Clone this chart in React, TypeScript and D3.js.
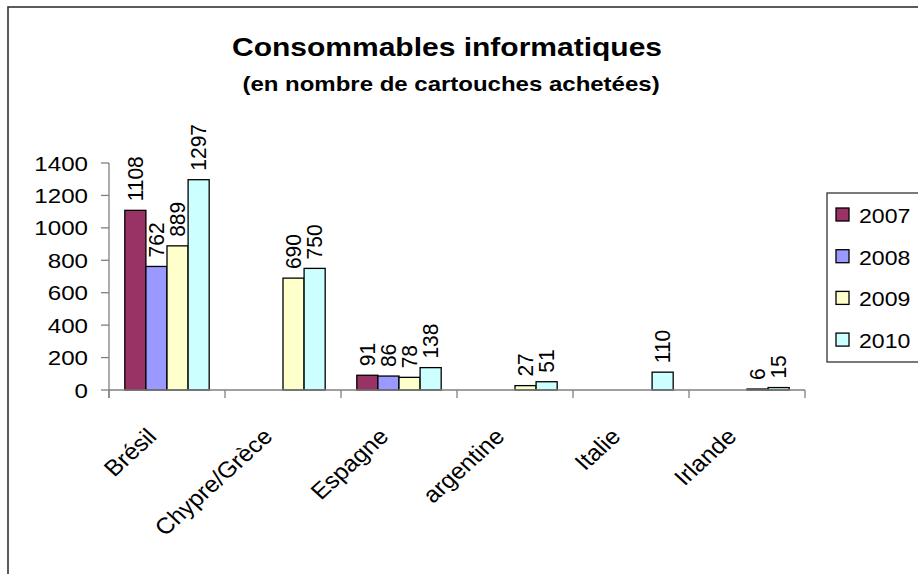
import React from "react";
import * as d3 from "d3";

const categories = ["Brésil", "Chypre/Grèce", "Espagne", "argentine", "Italie", "Irlande"];
const seriesNames = ["2007", "2008", "2009", "2010"];
const values2007: (number | null)[] = [1108, null, 91, null, null, null];
const values2008: (number | null)[] = [762, null, 86, null, null, null];
const values2009: (number | null)[] = [889, 690, 78, 27, null, 6];
const values2010: (number | null)[] = [1297, 750, 138, 51, 110, 15];
const yTicks = [0, 200, 400, 600, 800, 1000, 1200, 1400];
const colors = ["#993366", "#9999FF", "#FFFFCC", "#CCFFFF"];
const title = "Consommables informatiques";
const subtitle = "(en nombre de cartouches achetées)";

const seriesValues = [values2007, values2008, values2009, values2010];

const SX = 1.15;
const FONT = "'Liberation Sans', Arial, sans-serif";

export default function App() {
  const W = 918, H = 574;
  const left = 109, right = 805, top = 163, bottom = 390;
  const x0 = d3.scaleBand<string>().domain(categories).range([left, right]).paddingInner(0).paddingOuter(0);
  const x1 = d3.scaleBand<string>().domain(seriesNames).range([0, x0.bandwidth()]).paddingInner(0).paddingOuter(0.75);
  const y = d3.scaleLinear().domain([0, 1400]).range([bottom, top]);

  const bars: React.ReactNode[] = [];
  const labels: React.ReactNode[] = [];
  categories.forEach((c, ci) => {
    seriesValues.forEach((vals, si) => {
      const v = vals[ci];
      if (v == null) return;
      const bx = (x0(c) ?? 0) + (x1(seriesNames[si]) ?? 0);
      const bw = x1.bandwidth();
      const by = y(v);
      bars.push(
        <rect key={`b${ci}-${si}`} x={bx} y={by} width={bw} height={bottom - by}
          fill={colors[si]} stroke="#000" strokeWidth={1.3} />
      );
      const cx = bx + bw / 2;
      labels.push(
        <text key={`l${ci}-${si}`} transform={`translate(${cx + 7.5},${by - 9}) scale(1.05,1) rotate(-90)`}
          fontSize={21} fontFamily={FONT} fill="#000">{v}</text>
      );
    });
  });

  const boundaries = d3.range(categories.length + 1).map(i => left + i * x0.bandwidth());

  return (
    <svg width={W} height={H} style={{ position: "absolute", left: 0, top: 0, background: "#fff" }}>
      <rect x={0} y={0} width={W} height={H} fill="#fff" />
      <rect x={8} y={7} width={W + 20} height={H + 20} fill="none" stroke="#333" strokeWidth={1.6} />
      <g fontFamily={FONT} fontWeight="bold" textAnchor="middle" fill="#000">
        <text transform={`translate(447,56) scale(1.2,1)`} fontSize={25}>{title}</text>
        <text transform={`translate(451,91) scale(1.2,1)`} fontSize={20}>{subtitle}</text>
      </g>
      {/* y axis */}
      <line x1={left} x2={left} y1={top} y2={bottom + 8} stroke="#808080" strokeWidth={1.3} />
      {yTicks.map(t => (
        <g key={`yt${t}`}>
          <line x1={left - 8} x2={left} y1={y(t)} y2={y(t)} stroke="#808080" strokeWidth={1.3} />
          <text transform={`translate(88,${y(t) + 7.5}) scale(${SX},1)`} textAnchor="end" fontSize={21} fontFamily={FONT} fill="#000">{t}</text>
        </g>
      ))}
      {bars}
      {/* x axis */}
      <line x1={left} x2={right} y1={bottom} y2={bottom} stroke="#808080" strokeWidth={1.3} />
      {boundaries.map((bx, i) => (
        <line key={`xt${i}`} x1={bx} x2={bx} y1={bottom} y2={bottom + 8} stroke="#808080" strokeWidth={1.3} />
      ))}
      {categories.map(c => {
        const cx = (x0(c) ?? 0) + x0.bandwidth() / 2;
        return (
          <text key={`c${c}`} transform={`translate(${cx - 9},438) scale(1.1,1) rotate(-45)`} textAnchor="end"
            fontSize={22.5} fontFamily={FONT} fill="#000">{c}</text>
        );
      })}
      {labels}
      {/* legend */}
      <rect x={827} y={193} width={120} height={169} fill="#fff" stroke="#333" strokeWidth={1.3} />
      {seriesNames.map((s, i) => {
        const cy = 215 + i * 41.7;
        return (
          <g key={`lg${s}`}>
            <rect x={836} y={cy - 7} width={13} height={13} fill={colors[i]} stroke="#000" strokeWidth={1.3} />
            <text transform={`translate(859,${cy + 8}) scale(1.1,1)`} fontSize={21} fontFamily={FONT} fill="#000">{s}</text>
          </g>
        );
      })}
    </svg>
  );
}
